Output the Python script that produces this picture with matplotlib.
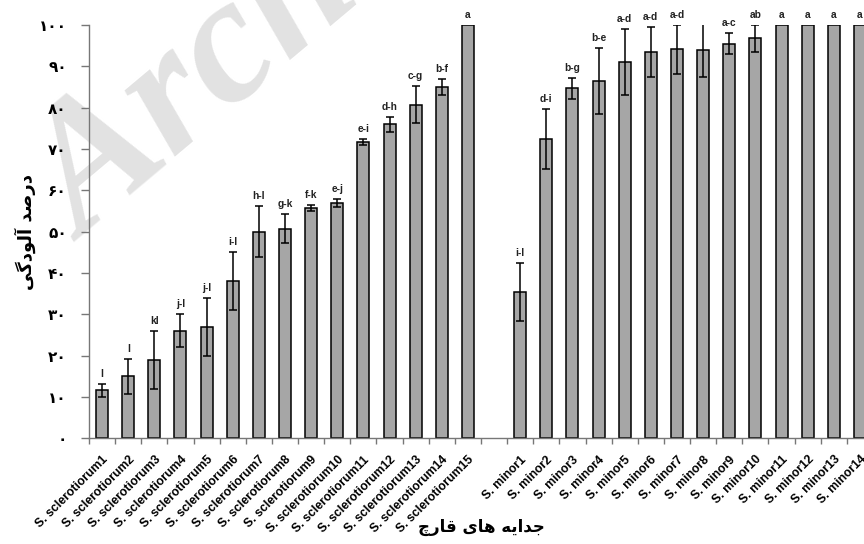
import matplotlib
matplotlib.use("Agg")
import matplotlib.pyplot as plt
import numpy as np

# ---------------- data ----------------
scl_names = [f"S. sclerotiorum{i}" for i in range(1, 16)]
scl_values = [11.6, 15.0, 19.0, 26.0, 27.0, 38.0, 50.0, 50.7, 55.7, 57.0, 71.7, 76.0, 80.7, 85.0, 100.0]
scl_errors = [1.5, 4.3, 7.0, 4.0, 7.0, 7.0, 6.2, 3.5, 0.8, 1.0, 0.8, 1.8, 4.5, 2.0, 0.0]
scl_letters = ["l", "l", "kl", "j-l", "j-l", "i-l", "h-l", "g-k", "f-k", "e-j",
               "e-i", "d-h", "c-g", "b-f", "a"]

minor_names = [f"S. minor{i}" for i in range(1, 15)]
minor_values = [35.5, 72.4, 84.7, 86.4, 91.1, 93.5, 94.1, 94.0, 95.5, 96.8, 100.0, 100.0, 100.0, 100.0]
minor_errors = [7.0, 7.3, 2.5, 8.0, 8.0, 6.0, 6.0, 6.5, 2.5, 3.3, 0.0, 0.0, 0.0, 0.0]
minor_letters = ["i-l", "d-i", "b-g", "b-e", "a-d", "a-d", "a-d", "a-d", "a-c", "ab",
                 "a", "a", "a", "a"]

y_ticks = [0, 10, 20, 30, 40, 50, 60, 70, 80, 90, 100]
# Persian digits for the y tick labels
persian_digits = "۰۱۲۳۴۵۶۷۸۹"
y_tick_labels = ["".join(persian_digits[int(c)] for c in str(v)) for v in y_ticks]

# Persian axis titles (presentation forms, visual order, since matplotlib does no shaping)
y_title = "\ufbfd\ufb94\ufea9\ufeee\ufedf\ufe81 \ufeaa\ufebb\ufead\ufea9"   # درصد آلودگی
x_title = "\ufb7a\ufead\ufe8e\ufed7 \ufbfc\ufe8e\ufeeb \ufeea\ufbfe\ufe8d\ufeaa\ufe9f"  # جدایه های قارچ

# ---------------- layout ----------------
names = scl_names + [""] + minor_names
values = scl_values + [np.nan] + minor_values
errors = scl_errors + [np.nan] + minor_errors
letters = scl_letters + [""] + minor_letters
x = np.arange(len(names))

fig = plt.figure(figsize=(8.64, 5.44), dpi=100)
fig.patch.set_facecolor("white")

# faint watermark
fig.text(0.096, 0.555, "Archive of SID", fontsize=130, family="Liberation Serif",
         fontweight="bold", fontstyle="italic", color="#e2e2e2",
         rotation=40, rotation_mode="anchor", ha="left", va="baseline", zorder=-5)

W, H = 864, 544
left, right, top, bottom = 89, 873, 25, 438.3
ax = fig.add_axes([left / W, 1 - bottom / H, (right - left) / W, (bottom - top) / H])
ax.set_facecolor("none")

mask = ~np.isnan(values)
ax.bar(x[mask], np.array(values)[mask], width=0.46, color="#a6a6a6",
       edgecolor="black", linewidth=1.1, zorder=2)
ev = np.array(errors)
emask = mask & (np.nan_to_num(ev) > 0)
ax.errorbar(x[emask], np.array(values)[emask], yerr=ev[emask], fmt="none",
            ecolor="black", elinewidth=1.1, capsize=2.9, capthick=1.1, zorder=3)

for xi, v, e, lab in zip(x, values, errors, letters):
    if not lab:
        continue
    ax.annotate(lab, (xi, v + e), xytext=(0, 3.5), textcoords="offset points",
                ha="center", va="bottom", fontsize=7.3, fontweight="bold",
                family="Liberation Sans", color="#222222")

ax.set_xlim(-0.5, len(names) - 0.5)
ax.set_ylim(0, 100)

ax.set_xticks(x)
ax.set_xticklabels(names, rotation=45, ha="right", rotation_mode="anchor",
                   fontsize=8.8, fontweight="bold", family="Liberation Sans")
ax.set_xticks(np.arange(-0.5, len(names), 1.0), minor=True)
ax.tick_params(axis="x", which="major", length=0, pad=11)
ax.tick_params(axis="x", which="minor", length=4, width=1, color="#777777", direction="out")

ax.set_yticks(y_ticks)
ax.set_yticklabels(y_tick_labels, fontsize=11, fontweight="bold", family="DejaVu Sans")
ax.tick_params(axis="y", length=6, width=1, color="#777777", direction="out", pad=10)

for s in ["top", "right"]:
    ax.spines[s].set_visible(False)
for s in ["left", "bottom"]:
    ax.spines[s].set_color("#777777")
    ax.spines[s].set_linewidth(1.0)

ax.set_ylabel(y_title, fontsize=13, fontweight="bold", family="DejaVu Sans")
ax.yaxis.set_label_coords((36 - left) / (right - left), 0.5)
ax.set_xlabel(x_title, fontsize=12, fontweight="bold", family="DejaVu Sans")
ax.xaxis.set_label_coords(0.5, -(518 - bottom) / (bottom - top))

fig.savefig("out.png", dpi=100, facecolor="white")
